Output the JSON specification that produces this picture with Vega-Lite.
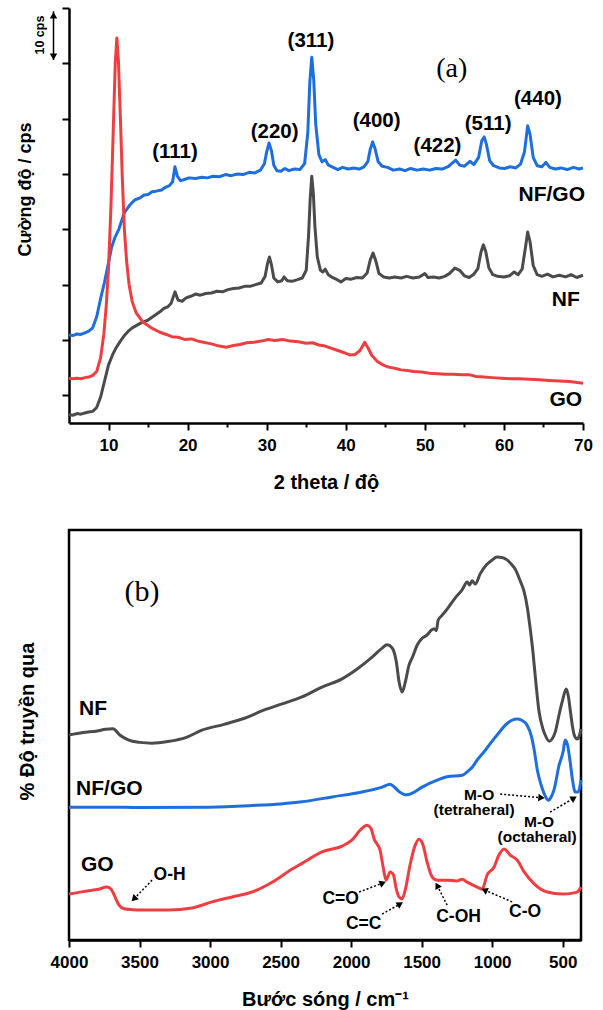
{
  "$schema": "https://vega.github.io/schema/vega-lite/v6.json",
  "padding": {"left": 15, "top": 7, "right": 5, "bottom": 0},
  "background": "white",
  "spacing": 36,
  "config": {
    "font": "Liberation Sans",
    "view": {"stroke": null},
    "axis": {"domainColor": "black", "domainWidth": 2.5, "tickColor": "black", "tickWidth": 2, "labelFont": "Liberation Sans", "labelFontWeight": "bold", "labelFontSize": 17, "labelColor": "black", "titleFont": "Liberation Sans", "titleFontWeight": "bold", "titleColor": "black", "grid": false, "labelFlush": false, "labelOverlap": false, "labelBound": false}
  },
  "datasets": {
    "xrd": [
      {"s":"NF/GO","t":5,"v":10.9},{"s":"NF/GO","t":5.5,"v":10.8},{"s":"NF/GO","t":6,"v":11.1},{"s":"NF/GO","t":6.5,"v":11.0},{"s":"NF/GO","t":7,"v":11.3},{"s":"NF/GO","t":7.5,"v":11.6},{"s":"NF/GO","t":8,"v":12.2},{"s":"NF/GO","t":8.5,"v":14.2},{"s":"NF/GO","t":9,"v":17.5},{"s":"NF/GO","t":9.5,"v":20.5},{"s":"NF/GO","t":10,"v":24.0},{"s":"NF/GO","t":10.4,"v":26.8},{"s":"NF/GO","t":10.8,"v":28.5},{"s":"NF/GO","t":11.3,"v":30.0},{"s":"NF/GO","t":12,"v":33.0},{"s":"NF/GO","t":12.7,"v":34.4},{"s":"NF/GO","t":13.3,"v":35.3},{"s":"NF/GO","t":14,"v":35.7},{"s":"NF/GO","t":14.5,"v":36.2},{"s":"NF/GO","t":15,"v":36.3},{"s":"NF/GO","t":15.5,"v":36.8},{"s":"NF/GO","t":16,"v":36.9},{"s":"NF/GO","t":16.7,"v":37.1},{"s":"NF/GO","t":17.2,"v":37.6},{"s":"NF/GO","t":17.7,"v":37.9},{"s":"NF/GO","t":18.1,"v":38.6},{"s":"NF/GO","t":18.4,"v":41.3},{"s":"NF/GO","t":18.7,"v":39.6},{"s":"NF/GO","t":19.1,"v":38.8},{"s":"NF/GO","t":19.6,"v":39.0},{"s":"NF/GO","t":20.2,"v":39.3},{"s":"NF/GO","t":21,"v":39.2},{"s":"NF/GO","t":21.8,"v":39.4},{"s":"NF/GO","t":22.5,"v":39.3},{"s":"NF/GO","t":23.2,"v":39.6},{"s":"NF/GO","t":24,"v":39.5},{"s":"NF/GO","t":24.8,"v":39.9},{"s":"NF/GO","t":25.5,"v":39.7},{"s":"NF/GO","t":26.3,"v":40.0},{"s":"NF/GO","t":27,"v":39.9},{"s":"NF/GO","t":27.8,"v":40.3},{"s":"NF/GO","t":28.5,"v":40.2},{"s":"NF/GO","t":29.2,"v":40.7},{"s":"NF/GO","t":29.7,"v":41.8},{"s":"NF/GO","t":30.0,"v":44.0},{"s":"NF/GO","t":30.3,"v":45.6},{"s":"NF/GO","t":30.6,"v":44.2},{"s":"NF/GO","t":30.9,"v":41.6},{"s":"NF/GO","t":31.3,"v":40.6},{"s":"NF/GO","t":31.8,"v":40.5},{"s":"NF/GO","t":32.3,"v":41.0},{"s":"NF/GO","t":32.8,"v":40.6},{"s":"NF/GO","t":33.5,"v":40.9},{"s":"NF/GO","t":34.2,"v":40.8},{"s":"NF/GO","t":34.8,"v":41.9},{"s":"NF/GO","t":35.2,"v":47.5},{"s":"NF/GO","t":35.45,"v":56.5},{"s":"NF/GO","t":35.7,"v":61.1},{"s":"NF/GO","t":35.95,"v":57.0},{"s":"NF/GO","t":36.2,"v":49.0},{"s":"NF/GO","t":36.6,"v":43.5},{"s":"NF/GO","t":37.0,"v":42.2},{"s":"NF/GO","t":37.4,"v":42.6},{"s":"NF/GO","t":37.8,"v":41.6},{"s":"NF/GO","t":38.4,"v":41.2},{"s":"NF/GO","t":39,"v":40.8},{"s":"NF/GO","t":39.6,"v":41.2},{"s":"NF/GO","t":40.3,"v":40.9},{"s":"NF/GO","t":41,"v":41.1},{"s":"NF/GO","t":41.7,"v":40.9},{"s":"NF/GO","t":42.3,"v":41.3},{"s":"NF/GO","t":42.8,"v":42.3},{"s":"NF/GO","t":43.1,"v":44.5},{"s":"NF/GO","t":43.4,"v":45.8},{"s":"NF/GO","t":43.7,"v":44.6},{"s":"NF/GO","t":44.1,"v":42.2},{"s":"NF/GO","t":44.6,"v":41.4},{"s":"NF/GO","t":45.3,"v":41.2},{"s":"NF/GO","t":46,"v":40.7},{"s":"NF/GO","t":46.8,"v":40.9},{"s":"NF/GO","t":47.5,"v":40.6},{"s":"NF/GO","t":48.2,"v":41.0},{"s":"NF/GO","t":49,"v":40.7},{"s":"NF/GO","t":49.8,"v":40.9},{"s":"NF/GO","t":50.6,"v":40.7},{"s":"NF/GO","t":51.4,"v":41.0},{"s":"NF/GO","t":52.2,"v":40.9},{"s":"NF/GO","t":53,"v":41.4},{"s":"NF/GO","t":53.5,"v":42.0},{"s":"NF/GO","t":53.9,"v":42.5},{"s":"NF/GO","t":54.4,"v":41.6},{"s":"NF/GO","t":55,"v":41.4},{"s":"NF/GO","t":55.7,"v":42.3},{"s":"NF/GO","t":56.2,"v":41.7},{"s":"NF/GO","t":56.8,"v":43.0},{"s":"NF/GO","t":57.2,"v":46.0},{"s":"NF/GO","t":57.5,"v":46.7},{"s":"NF/GO","t":57.8,"v":45.3},{"s":"NF/GO","t":58.2,"v":42.4},{"s":"NF/GO","t":58.7,"v":41.5},{"s":"NF/GO","t":59.4,"v":41.1},{"s":"NF/GO","t":60.1,"v":41.0},{"s":"NF/GO","t":60.8,"v":41.3},{"s":"NF/GO","t":61.5,"v":41.1},{"s":"NF/GO","t":62.1,"v":41.8},{"s":"NF/GO","t":62.6,"v":44.0},{"s":"NF/GO","t":63,"v":48.7},{"s":"NF/GO","t":63.3,"v":47.2},{"s":"NF/GO","t":63.7,"v":43.0},{"s":"NF/GO","t":64.2,"v":41.5},{"s":"NF/GO","t":64.8,"v":41.3},{"s":"NF/GO","t":65.3,"v":42.1},{"s":"NF/GO","t":65.8,"v":41.2},{"s":"NF/GO","t":66.5,"v":40.9},{"s":"NF/GO","t":67.2,"v":41.1},{"s":"NF/GO","t":68,"v":40.8},{"s":"NF/GO","t":68.8,"v":41.2},{"s":"NF/GO","t":69.5,"v":40.9},{"s":"NF/GO","t":70,"v":41.1},
      {"s":"NF","t":5,"v":-3.5},{"s":"NF","t":5.5,"v":-3.6},{"s":"NF","t":6,"v":-3.3},{"s":"NF","t":6.5,"v":-3.4},{"s":"NF","t":7,"v":-3.2},{"s":"NF","t":7.5,"v":-3.0},{"s":"NF","t":8,"v":-2.9},{"s":"NF","t":8.5,"v":-2.2},{"s":"NF","t":9,"v":-0.3},{"s":"NF","t":9.5,"v":2.6},{"s":"NF","t":10,"v":5.5},{"s":"NF","t":10.5,"v":7.3},{"s":"NF","t":11,"v":8.7},{"s":"NF","t":11.5,"v":9.8},{"s":"NF","t":12,"v":10.8},{"s":"NF","t":12.5,"v":11.6},{"s":"NF","t":13,"v":12.2},{"s":"NF","t":13.5,"v":12.6},{"s":"NF","t":14,"v":13.0},{"s":"NF","t":14.5,"v":13.3},{"s":"NF","t":15,"v":13.6},{"s":"NF","t":15.5,"v":14.1},{"s":"NF","t":16,"v":14.6},{"s":"NF","t":16.5,"v":15.1},{"s":"NF","t":17,"v":15.7},{"s":"NF","t":17.5,"v":16.0},{"s":"NF","t":17.9,"v":16.6},{"s":"NF","t":18.4,"v":18.7},{"s":"NF","t":18.8,"v":17.2},{"s":"NF","t":19.3,"v":17.0},{"s":"NF","t":19.8,"v":17.6},{"s":"NF","t":20.4,"v":17.9},{"s":"NF","t":21,"v":18.3},{"s":"NF","t":21.6,"v":18.1},{"s":"NF","t":22.3,"v":18.4},{"s":"NF","t":23,"v":18.5},{"s":"NF","t":23.7,"v":18.8},{"s":"NF","t":24.4,"v":18.7},{"s":"NF","t":25.1,"v":19.1},{"s":"NF","t":25.8,"v":19.3},{"s":"NF","t":26.5,"v":19.4},{"s":"NF","t":27.2,"v":19.7},{"s":"NF","t":27.9,"v":19.7},{"s":"NF","t":28.6,"v":20.0},{"s":"NF","t":29.3,"v":20.3},{"s":"NF","t":29.8,"v":21.5},{"s":"NF","t":30.1,"v":23.8},{"s":"NF","t":30.35,"v":25.0},{"s":"NF","t":30.6,"v":23.6},{"s":"NF","t":30.9,"v":21.2},{"s":"NF","t":31.4,"v":20.5},{"s":"NF","t":31.9,"v":20.7},{"s":"NF","t":32.2,"v":21.4},{"s":"NF","t":32.6,"v":20.7},{"s":"NF","t":33.2,"v":20.6},{"s":"NF","t":33.9,"v":20.9},{"s":"NF","t":34.5,"v":21.2},{"s":"NF","t":35,"v":22.6},{"s":"NF","t":35.3,"v":29.0},{"s":"NF","t":35.5,"v":35.5},{"s":"NF","t":35.7,"v":39.6},{"s":"NF","t":35.9,"v":36.5},{"s":"NF","t":36.1,"v":30.5},{"s":"NF","t":36.4,"v":25.0},{"s":"NF","t":36.8,"v":22.6},{"s":"NF","t":37.1,"v":22.3},{"s":"NF","t":37.4,"v":22.8},{"s":"NF","t":37.8,"v":21.8},{"s":"NF","t":38.3,"v":21.3},{"s":"NF","t":38.9,"v":20.9},{"s":"NF","t":39.4,"v":20.5},{"s":"NF","t":40,"v":21.1},{"s":"NF","t":40.7,"v":21.0},{"s":"NF","t":41.4,"v":21.3},{"s":"NF","t":42.1,"v":21.2},{"s":"NF","t":42.7,"v":22.1},{"s":"NF","t":43.1,"v":24.5},{"s":"NF","t":43.45,"v":25.7},{"s":"NF","t":43.8,"v":24.3},{"s":"NF","t":44.2,"v":22.0},{"s":"NF","t":44.8,"v":21.4},{"s":"NF","t":45.5,"v":21.2},{"s":"NF","t":46.2,"v":21.4},{"s":"NF","t":47,"v":21.2},{"s":"NF","t":47.7,"v":21.5},{"s":"NF","t":48.5,"v":21.2},{"s":"NF","t":49.3,"v":21.4},{"s":"NF","t":50,"v":22.0},{"s":"NF","t":50.4,"v":21.3},{"s":"NF","t":51.1,"v":21.4},{"s":"NF","t":51.8,"v":21.2},{"s":"NF","t":52.5,"v":21.5},{"s":"NF","t":53.1,"v":22.0},{"s":"NF","t":53.8,"v":23.0},{"s":"NF","t":54.4,"v":22.6},{"s":"NF","t":55,"v":21.6},{"s":"NF","t":55.6,"v":21.3},{"s":"NF","t":56.2,"v":21.9},{"s":"NF","t":56.7,"v":22.9},{"s":"NF","t":57.1,"v":25.9},{"s":"NF","t":57.4,"v":27.2},{"s":"NF","t":57.7,"v":26.0},{"s":"NF","t":58.1,"v":23.0},{"s":"NF","t":58.6,"v":21.8},{"s":"NF","t":59.2,"v":21.5},{"s":"NF","t":60,"v":21.4},{"s":"NF","t":60.7,"v":21.6},{"s":"NF","t":61.3,"v":22.3},{"s":"NF","t":61.8,"v":21.8},{"s":"NF","t":62.3,"v":22.8},{"s":"NF","t":62.7,"v":26.5},{"s":"NF","t":63,"v":29.5},{"s":"NF","t":63.3,"v":27.8},{"s":"NF","t":63.7,"v":23.5},{"s":"NF","t":64.2,"v":21.8},{"s":"NF","t":64.8,"v":21.5},{"s":"NF","t":65.5,"v":21.9},{"s":"NF","t":66.2,"v":21.4},{"s":"NF","t":67,"v":21.7},{"s":"NF","t":67.8,"v":21.4},{"s":"NF","t":68.5,"v":21.8},{"s":"NF","t":69.2,"v":21.3},{"s":"NF","t":70,"v":21.7},
      {"s":"GO","t":5,"v":3.1},{"s":"GO","t":5.5,"v":3.0},{"s":"GO","t":6,"v":3.1},{"s":"GO","t":6.5,"v":3.0},{"s":"GO","t":7,"v":3.2},{"s":"GO","t":7.5,"v":3.3},{"s":"GO","t":8,"v":3.6},{"s":"GO","t":8.5,"v":4.3},{"s":"GO","t":9,"v":6.8},{"s":"GO","t":9.4,"v":11.0},{"s":"GO","t":9.7,"v":16.0},{"s":"GO","t":10.0,"v":23.0},{"s":"GO","t":10.3,"v":34.0},{"s":"GO","t":10.6,"v":48.0},{"s":"GO","t":10.85,"v":60.0},{"s":"GO","t":11.05,"v":64.6},{"s":"GO","t":11.25,"v":60.5},{"s":"GO","t":11.5,"v":50.0},{"s":"GO","t":11.75,"v":39.0},{"s":"GO","t":12.0,"v":30.0},{"s":"GO","t":12.3,"v":24.0},{"s":"GO","t":12.6,"v":20.0},{"s":"GO","t":13.0,"v":16.9},{"s":"GO","t":13.5,"v":14.9},{"s":"GO","t":14.3,"v":13.3},{"s":"GO","t":15.4,"v":12.2},{"s":"GO","t":16.5,"v":11.4},{"s":"GO","t":17.3,"v":11.0},{"s":"GO","t":18,"v":10.6},{"s":"GO","t":18.8,"v":10.5},{"s":"GO","t":19.6,"v":10.1},{"s":"GO","t":20.5,"v":10.2},{"s":"GO","t":21.3,"v":9.8},{"s":"GO","t":22,"v":9.6},{"s":"GO","t":23,"v":9.3},{"s":"GO","t":24,"v":8.9},{"s":"GO","t":24.9,"v":8.7},{"s":"GO","t":25.8,"v":9.0},{"s":"GO","t":26.6,"v":9.2},{"s":"GO","t":27.5,"v":9.5},{"s":"GO","t":28.4,"v":9.6},{"s":"GO","t":29.3,"v":9.8},{"s":"GO","t":30.2,"v":10.1},{"s":"GO","t":31,"v":9.9},{"s":"GO","t":32,"v":10.1},{"s":"GO","t":33,"v":9.8},{"s":"GO","t":34,"v":9.7},{"s":"GO","t":35,"v":9.4},{"s":"GO","t":35.8,"v":9.5},{"s":"GO","t":36.6,"v":9.1},{"s":"GO","t":37.4,"v":8.9},{"s":"GO","t":38.2,"v":8.5},{"s":"GO","t":39,"v":8.1},{"s":"GO","t":39.8,"v":7.7},{"s":"GO","t":40.5,"v":7.3},{"s":"GO","t":41.2,"v":7.4},{"s":"GO","t":41.8,"v":8.1},{"s":"GO","t":42.4,"v":9.6},{"s":"GO","t":42.8,"v":8.6},{"s":"GO","t":43.3,"v":7.2},{"s":"GO","t":44,"v":6.1},{"s":"GO","t":44.7,"v":5.5},{"s":"GO","t":45.4,"v":5.1},{"s":"GO","t":46.2,"v":4.9},{"s":"GO","t":47,"v":4.6},{"s":"GO","t":47.8,"v":4.5},{"s":"GO","t":48.6,"v":4.3},{"s":"GO","t":49.6,"v":4.2},{"s":"GO","t":50.6,"v":4.0},{"s":"GO","t":51.6,"v":3.9},{"s":"GO","t":52.6,"v":3.8},{"s":"GO","t":53.6,"v":3.8},{"s":"GO","t":54.7,"v":3.7},{"s":"GO","t":55.7,"v":3.7},{"s":"GO","t":56.5,"v":3.4},{"s":"GO","t":57.5,"v":3.3},{"s":"GO","t":58.5,"v":3.2},{"s":"GO","t":59.7,"v":3.1},{"s":"GO","t":60.8,"v":3.0},{"s":"GO","t":62,"v":3.0},{"s":"GO","t":63.2,"v":2.9},{"s":"GO","t":64.5,"v":2.8},{"s":"GO","t":65.7,"v":2.7},{"s":"GO","t":67,"v":2.6},{"s":"GO","t":68.3,"v":2.5},{"s":"GO","t":69.3,"v":2.3},{"s":"GO","t":70,"v":2.2}
    ],
    "hkl": [
      {"t":18.4,"v":44.0,"label":"(111)"},{"t":31.0,"v":47.6,"label":"(220)"},{"t":35.6,"v":64.0,"label":"(311)"},{"t":43.9,"v":49.6,"label":"(400)"},{"t":51.6,"v":45.1,"label":"(422)"},{"t":58.0,"v":49.0,"label":"(511)"},{"t":64.3,"v":53.6,"label":"(440)"}
    ],
    "namesA": [
      {"t":70.25,"v":36.2,"label":"NF/GO"},{"t":69.6,"v":17.2,"label":"NF"},{"t":69.9,"v":-0.84,"label":"GO"}
    ],
    "panelA": [{"t":53.4,"v":59.0,"label":"(a)"}],
    "cpsBar": [{"t":3.04,"v1":60.6,"v2":69.4}],
    "cpsHeads": [{"t":3.04,"v":68.7,"dir":"up"},{"t":3.04,"v":61.2,"dir":"down"}],
    "cpsText": [{"t":1.27,"v":65.1,"label":"10 cps"}],
    "ftir": [
      {"s":"NF","w":4000,"v":50.0},{"s":"NF","w":3900,"v":50.6},{"s":"NF","w":3800,"v":51.0},{"s":"NF","w":3740,"v":51.4},{"s":"NF","w":3688,"v":51.5},{"s":"NF","w":3640,"v":50.0},{"s":"NF","w":3580,"v":48.8},{"s":"NF","w":3500,"v":48.2},{"s":"NF","w":3411,"v":48.0},{"s":"NF","w":3300,"v":48.4},{"s":"NF","w":3163,"v":49.5},{"s":"NF","w":3057,"v":51.2},{"s":"NF","w":2900,"v":52.6},{"s":"NF","w":2773,"v":53.9},{"s":"NF","w":2600,"v":56.3},{"s":"NF","w":2489,"v":57.6},{"s":"NF","w":2348,"v":59.3},{"s":"NF","w":2206,"v":61.7},{"s":"NF","w":2064,"v":63.7},{"s":"NF","w":1957,"v":66.1},{"s":"NF","w":1851,"v":69.0},{"s":"NF","w":1780,"v":71.2},{"s":"NF","w":1745,"v":72.0},{"s":"NF","w":1710,"v":71.3},{"s":"NF","w":1680,"v":68.0},{"s":"NF","w":1660,"v":63.0},{"s":"NF","w":1638,"v":60.5},{"s":"NF","w":1615,"v":63.0},{"s":"NF","w":1590,"v":67.0},{"s":"NF","w":1567,"v":68.8},{"s":"NF","w":1530,"v":72.0},{"s":"NF","w":1500,"v":73.5},{"s":"NF","w":1461,"v":74.4},{"s":"NF","w":1430,"v":75.6},{"s":"NF","w":1411,"v":75.9},{"s":"NF","w":1395,"v":75.5},{"s":"NF","w":1383,"v":78.0},{"s":"NF","w":1360,"v":79.0},{"s":"NF","w":1319,"v":80.7},{"s":"NF","w":1260,"v":83.5},{"s":"NF","w":1213,"v":85.4},{"s":"NF","w":1177,"v":87.3},{"s":"NF","w":1160,"v":86.6},{"s":"NF","w":1142,"v":87.6},{"s":"NF","w":1120,"v":86.8},{"s":"NF","w":1085,"v":89.3},{"s":"NF","w":1040,"v":91.5},{"s":"NF","w":1000,"v":92.7},{"s":"NF","w":965,"v":93.4},{"s":"NF","w":930,"v":93.3},{"s":"NF","w":894,"v":92.7},{"s":"NF","w":860,"v":91.5},{"s":"NF","w":837,"v":90.5},{"s":"NF","w":800,"v":87.5},{"s":"NF","w":773,"v":84.9},{"s":"NF","w":750,"v":81.0},{"s":"NF","w":730,"v":75.9},{"s":"NF","w":710,"v":70.0},{"s":"NF","w":695,"v":64.6},{"s":"NF","w":667,"v":55.6},{"s":"NF","w":640,"v":51.5},{"s":"NF","w":624,"v":50.0},{"s":"NF","w":596,"v":48.5},{"s":"NF","w":570,"v":49.3},{"s":"NF","w":553,"v":50.7},{"s":"NF","w":525,"v":55.0},{"s":"NF","w":504,"v":58.0},{"s":"NF","w":475,"v":61.2},{"s":"NF","w":460,"v":59.5},{"s":"NF","w":447,"v":56.3},{"s":"NF","w":430,"v":52.0},{"s":"NF","w":418,"v":50.0},{"s":"NF","w":397,"v":49.0},{"s":"NF","w":380,"v":50.0},{"s":"NF","w":370,"v":51.5},
      {"s":"NF/GO","w":4000,"v":32.4},{"s":"NF/GO","w":3700,"v":32.4},{"s":"NF/GO","w":3500,"v":32.3},{"s":"NF/GO","w":3000,"v":32.4},{"s":"NF/GO","w":2700,"v":32.8},{"s":"NF/GO","w":2500,"v":33.2},{"s":"NF/GO","w":2348,"v":33.7},{"s":"NF/GO","w":2135,"v":34.9},{"s":"NF/GO","w":1922,"v":36.1},{"s":"NF/GO","w":1780,"v":37.3},{"s":"NF/GO","w":1723,"v":38.0},{"s":"NF/GO","w":1690,"v":37.2},{"s":"NF/GO","w":1660,"v":36.2},{"s":"NF/GO","w":1630,"v":35.6},{"s":"NF/GO","w":1603,"v":35.4},{"s":"NF/GO","w":1567,"v":35.8},{"s":"NF/GO","w":1496,"v":37.3},{"s":"NF/GO","w":1390,"v":39.0},{"s":"NF/GO","w":1319,"v":39.8},{"s":"NF/GO","w":1213,"v":40.2},{"s":"NF/GO","w":1177,"v":41.0},{"s":"NF/GO","w":1140,"v":42.2},{"s":"NF/GO","w":1106,"v":43.9},{"s":"NF/GO","w":1057,"v":45.9},{"s":"NF/GO","w":1000,"v":48.5},{"s":"NF/GO","w":965,"v":50.0},{"s":"NF/GO","w":894,"v":52.8},{"s":"NF/GO","w":860,"v":53.6},{"s":"NF/GO","w":823,"v":53.9},{"s":"NF/GO","w":790,"v":53.6},{"s":"NF/GO","w":752,"v":52.4},{"s":"NF/GO","w":720,"v":49.5},{"s":"NF/GO","w":700,"v":46.0},{"s":"NF/GO","w":680,"v":41.5},{"s":"NF/GO","w":650,"v":37.5},{"s":"NF/GO","w":625,"v":35.2},{"s":"NF/GO","w":603,"v":34.1},{"s":"NF/GO","w":580,"v":35.0},{"s":"NF/GO","w":560,"v":36.8},{"s":"NF/GO","w":525,"v":42.7},{"s":"NF/GO","w":497,"v":45.9},{"s":"NF/GO","w":482,"v":48.8},{"s":"NF/GO","w":465,"v":47.5},{"s":"NF/GO","w":447,"v":43.5},{"s":"NF/GO","w":430,"v":39.0},{"s":"NF/GO","w":411,"v":36.1},{"s":"NF/GO","w":390,"v":36.1},{"s":"NF/GO","w":370,"v":39.0},
      {"s":"GO","w":4000,"v":11.2},{"s":"GO","w":3900,"v":11.8},{"s":"GO","w":3800,"v":12.3},{"s":"GO","w":3730,"v":12.9},{"s":"GO","w":3700,"v":12.3},{"s":"GO","w":3680,"v":11.0},{"s":"GO","w":3645,"v":8.5},{"s":"GO","w":3610,"v":7.6},{"s":"GO","w":3550,"v":7.4},{"s":"GO","w":3482,"v":7.3},{"s":"GO","w":3291,"v":7.3},{"s":"GO","w":3128,"v":7.8},{"s":"GO","w":2986,"v":9.3},{"s":"GO","w":2844,"v":10.5},{"s":"GO","w":2702,"v":11.7},{"s":"GO","w":2560,"v":14.1},{"s":"GO","w":2418,"v":17.3},{"s":"GO","w":2348,"v":18.7},{"s":"GO","w":2206,"v":21.5},{"s":"GO","w":2064,"v":22.9},{"s":"GO","w":1993,"v":24.4},{"s":"GO","w":1936,"v":26.8},{"s":"GO","w":1887,"v":28.0},{"s":"GO","w":1860,"v":27.3},{"s":"GO","w":1835,"v":24.5},{"s":"GO","w":1816,"v":23.4},{"s":"GO","w":1795,"v":22.0},{"s":"GO","w":1773,"v":17.8},{"s":"GO","w":1752,"v":14.6},{"s":"GO","w":1723,"v":16.6},{"s":"GO","w":1700,"v":15.9},{"s":"GO","w":1680,"v":12.5},{"s":"GO","w":1660,"v":10.5},{"s":"GO","w":1638,"v":10.0},{"s":"GO","w":1615,"v":12.4},{"s":"GO","w":1582,"v":18.3},{"s":"GO","w":1550,"v":22.7},{"s":"GO","w":1518,"v":24.6},{"s":"GO","w":1490,"v":23.2},{"s":"GO","w":1461,"v":19.0},{"s":"GO","w":1426,"v":15.4},{"s":"GO","w":1390,"v":14.6},{"s":"GO","w":1319,"v":14.6},{"s":"GO","w":1250,"v":14.4},{"s":"GO","w":1213,"v":14.8},{"s":"GO","w":1177,"v":14.1},{"s":"GO","w":1106,"v":12.9},{"s":"GO","w":1071,"v":12.4},{"s":"GO","w":1035,"v":15.9},{"s":"GO","w":986,"v":17.8},{"s":"GO","w":955,"v":20.5},{"s":"GO","w":915,"v":22.2},{"s":"GO","w":872,"v":20.7},{"s":"GO","w":823,"v":19.5},{"s":"GO","w":773,"v":16.6},{"s":"GO","w":702,"v":13.7},{"s":"GO","w":610,"v":11.7},{"s":"GO","w":504,"v":11.2},{"s":"GO","w":420,"v":11.5},{"s":"GO","w":397,"v":11.7},{"s":"GO","w":370,"v":12.9}
    ],
    "namesB": [
      {"w":3929,"v":56.3,"label":"NF"},{"w":3950,"v":36.8,"label":"NF/GO"},{"w":3915,"v":18.3,"label":"GO"}
    ],
    "bondsB": [
      {"w":3287,"v":15.9,"label":"O-H"},{"w":2074,"v":10.0,"label":"C=O"},{"w":1911,"v":3.9,"label":"C=C"},{"w":1238,"v":5.6,"label":"C-OH"},{"w":766,"v":6.8,"label":"C-O"}
    ],
    "moB": [
      {"w":1092,"v":35.4,"label":"M-O"},{"w":1128,"v":31.7,"label":"(tetraheral)"},{"w":667,"v":28.8,"label":"M-O"},{"w":681,"v":25.1,"label":"(octaheral)"}
    ],
    "panelB": [{"w":3482,"v":84.9,"label":"(b)"}],
    "arrows": [
      {"id":"OH","w1":3411,"v1":14.6,"w2":3540,"v2":10.0},
      {"id":"CO1","w1":1943,"v1":11.7,"w2":1775,"v2":13.9},
      {"id":"CC","w1":1780,"v1":6.3,"w2":1652,"v2":8.8},
      {"id":"COH","w1":1319,"v1":8.5,"w2":1390,"v2":13.3},
      {"id":"CO2","w1":858,"v1":9.3,"w2":1055,"v2":12.2},
      {"id":"MOT","w1":943,"v1":35.6,"w2":650,"v2":34.7},
      {"id":"MOO","w1":589,"v1":31.2,"w2":420,"v2":34.6}
    ]
  },
  "vconcat": [
    {
      "width": 514,
      "height": 415,
      "layer": [
        {
          "data": {"name": "xrd"},
          "mark": {"type": "line", "strokeWidth": 3, "strokeJoin": "round"},
          "encoding": {
            "x": {"field": "t", "type": "quantitative", "scale": {"domain": [5, 70], "nice": false, "zero": false},
              "axis": {"title": "2 theta / độ", "format": "d", "values": [10,15,20,25,30,35,40,45,50,55,60,65,70], "labelExpr": "(datum.value % 10 == 0) ? datum.label : ''", "labelOverlap": false, "labelFlush": false, "labelBound": false, "tickSize": {"condition": {"test": "datum.value % 10 == 0", "value": 7}, "value": 4}, "labelPadding": 7, "titleFontSize": 20, "titleY": 59, "titleBaseline": "middle"}},
            "y": {"field": "v", "type": "quantitative", "scale": {"domain": [-5, 70], "nice": false, "zero": false},
              "axis": {"title": "Cường độ / cps", "values": [0,10,20,30,40,50,60,70], "labels": false, "tickSize": 7, "titleFontSize": 18, "titleX": -43.5, "titleY": 181, "titleBaseline": "middle", "titleAlign": "center", "titleAngle": -90}},
            "color": {"field": "s", "type": "nominal", "scale": {"domain": ["NF/GO", "NF", "GO"], "range": ["#1e6fdd", "#4b4b4b", "#ef3e42"]}, "legend": null}
          }
        },
        {
          "data": {"name": "hkl"},
          "mark": {"type": "text", "font": "Liberation Sans", "fontWeight": "bold", "fontSize": 20.5, "align": "center", "baseline": "middle", "color": "black"},
          "encoding": {"x": {"field": "t", "type": "quantitative"}, "y": {"field": "v", "type": "quantitative"}, "text": {"field": "label"}}
        },
        {
          "data": {"name": "namesA"},
          "mark": {"type": "text", "font": "Liberation Sans", "fontWeight": "bold", "fontSize": 21, "align": "right", "baseline": "middle", "color": "black"},
          "encoding": {"x": {"field": "t", "type": "quantitative"}, "y": {"field": "v", "type": "quantitative"}, "text": {"field": "label"}}
        },
        {
          "data": {"name": "panelA"},
          "mark": {"type": "text", "font": "Liberation Serif", "fontSize": 28, "align": "center", "baseline": "middle", "color": "black"},
          "encoding": {"x": {"field": "t", "type": "quantitative"}, "y": {"field": "v", "type": "quantitative"}, "text": {"field": "label"}}
        },
        {
          "data": {"name": "cpsBar"},
          "mark": {"type": "rule", "strokeWidth": 1.5, "color": "black"},
          "encoding": {"x": {"field": "t", "type": "quantitative"}, "y": {"field": "v1", "type": "quantitative"}, "y2": {"field": "v2"}}
        },
        {
          "data": {"name": "cpsHeads"},
          "mark": {"type": "point", "filled": true, "size": 55, "color": "black", "opacity": 1},
          "encoding": {"x": {"field": "t", "type": "quantitative"}, "y": {"field": "v", "type": "quantitative"},
            "shape": {"field": "dir", "type": "nominal", "scale": {"domain": ["up", "down"], "range": ["triangle-up", "triangle-down"]}, "legend": null}}
        },
        {
          "data": {"name": "cpsText"},
          "mark": {"type": "text", "font": "Liberation Sans", "fontWeight": "bold", "fontSize": 12.5, "angle": 270, "align": "center", "baseline": "middle", "color": "black"},
          "encoding": {"x": {"field": "t", "type": "quantitative"}, "y": {"field": "v", "type": "quantitative"}, "text": {"field": "label"}}
        }
      ]
    },
    {
      "width": 512,
      "height": 410,
      "view": {"stroke": "black", "strokeWidth": 2.5},
      "layer": [
        {
          "data": {"name": "ftir"},
          "mark": {"type": "line", "strokeWidth": 3, "interpolate": "monotone"},
          "encoding": {
            "x": {"field": "w", "type": "quantitative", "scale": {"domain": [4000, 370], "nice": false, "zero": false},
              "axis": {"title": "Bước sóng / cm⁻¹", "format": "d", "values": [4000,3750,3500,3250,3000,2750,2500,2250,2000,1750,1500,1250,1000,750,500], "labelExpr": "(datum.value % 500 == 0) ? datum.label : ''", "labelOverlap": false, "labelFlush": false, "labelBound": false, "tickSize": {"condition": {"test": "datum.value % 500 == 0", "value": 7}, "value": 4}, "labelPadding": 7, "titleFontSize": 20, "titleY": 59, "titleBaseline": "middle"}},
            "y": {"field": "v", "type": "quantitative", "scale": {"domain": [0, 100], "nice": false, "zero": false},
              "axis": {"title": "% Độ truyền qua", "domain": false, "ticks": false, "labels": false, "titleFontSize": 20, "titleX": -42, "titleY": 191, "titleBaseline": "middle", "titleAlign": "center", "titleAngle": -90}},
            "color": {"field": "s", "type": "nominal", "scale": {"domain": ["NF/GO", "NF", "GO"], "range": ["#1e6fdd", "#4b4b4b", "#ef3e42"]}, "legend": null}
          }
        },
        {
          "data": {"name": "namesB"},
          "mark": {"type": "text", "font": "Liberation Sans", "fontWeight": "bold", "fontSize": 21, "align": "left", "baseline": "middle", "color": "black"},
          "encoding": {"x": {"field": "w", "type": "quantitative"}, "y": {"field": "v", "type": "quantitative"}, "text": {"field": "label"}}
        },
        {
          "data": {"name": "bondsB"},
          "mark": {"type": "text", "font": "Liberation Sans", "fontWeight": "bold", "fontSize": 17.5, "align": "center", "baseline": "middle", "color": "black"},
          "encoding": {"x": {"field": "w", "type": "quantitative"}, "y": {"field": "v", "type": "quantitative"}, "text": {"field": "label"}}
        },
        {
          "data": {"name": "moB"},
          "mark": {"type": "text", "font": "Liberation Sans", "fontWeight": "bold", "fontSize": 15.5, "align": "center", "baseline": "middle", "color": "black"},
          "encoding": {"x": {"field": "w", "type": "quantitative"}, "y": {"field": "v", "type": "quantitative"}, "text": {"field": "label"}}
        },
        {
          "data": {"name": "panelB"},
          "mark": {"type": "text", "font": "Liberation Serif", "fontSize": 30, "align": "center", "baseline": "middle", "color": "black"},
          "encoding": {"x": {"field": "w", "type": "quantitative"}, "y": {"field": "v", "type": "quantitative"}, "text": {"field": "label"}}
        },
        {
          "data": {"name": "arrows"},
          "mark": {"type": "rule", "strokeWidth": 1.5, "strokeDash": [2, 2], "color": "black"},
          "encoding": {"x": {"field": "w1", "type": "quantitative"}, "y": {"field": "v1", "type": "quantitative"}, "x2": {"field": "w2"}, "y2": {"field": "v2"}}
        },
        {"data": {"name": "arrows"}, "transform": [{"filter": "datum.id === 'OH'"}], "mark": {"type": "point", "shape": "triangle-up", "filled": true, "size": 55, "angle": 224, "color": "black", "opacity": 1}, "encoding": {"x": {"field": "w2", "type": "quantitative"}, "y": {"field": "v2", "type": "quantitative"}}},
        {"data": {"name": "arrows"}, "transform": [{"filter": "datum.id === 'CO1'"}], "mark": {"type": "point", "shape": "triangle-up", "filled": true, "size": 55, "angle": 68, "color": "black", "opacity": 1}, "encoding": {"x": {"field": "w2", "type": "quantitative"}, "y": {"field": "v2", "type": "quantitative"}}},
        {"data": {"name": "arrows"}, "transform": [{"filter": "datum.id === 'CC'"}], "mark": {"type": "point", "shape": "triangle-up", "filled": true, "size": 55, "angle": 59, "color": "black", "opacity": 1}, "encoding": {"x": {"field": "w2", "type": "quantitative"}, "y": {"field": "v2", "type": "quantitative"}}},
        {"data": {"name": "arrows"}, "transform": [{"filter": "datum.id === 'COH'"}], "mark": {"type": "point", "shape": "triangle-up", "filled": true, "size": 55, "angle": 332, "color": "black", "opacity": 1}, "encoding": {"x": {"field": "w2", "type": "quantitative"}, "y": {"field": "v2", "type": "quantitative"}}},
        {"data": {"name": "arrows"}, "transform": [{"filter": "datum.id === 'CO2'"}], "mark": {"type": "point", "shape": "triangle-up", "filled": true, "size": 55, "angle": 294, "color": "black", "opacity": 1}, "encoding": {"x": {"field": "w2", "type": "quantitative"}, "y": {"field": "v2", "type": "quantitative"}}},
        {"data": {"name": "arrows"}, "transform": [{"filter": "datum.id === 'MOT'"}], "mark": {"type": "point", "shape": "triangle-up", "filled": true, "size": 55, "angle": 95, "color": "black", "opacity": 1}, "encoding": {"x": {"field": "w2", "type": "quantitative"}, "y": {"field": "v2", "type": "quantitative"}}},
        {"data": {"name": "arrows"}, "transform": [{"filter": "datum.id === 'MOO'"}], "mark": {"type": "point", "shape": "triangle-up", "filled": true, "size": 55, "angle": 59, "color": "black", "opacity": 1}, "encoding": {"x": {"field": "w2", "type": "quantitative"}, "y": {"field": "v2", "type": "quantitative"}}}
      ]
    }
  ]
}
